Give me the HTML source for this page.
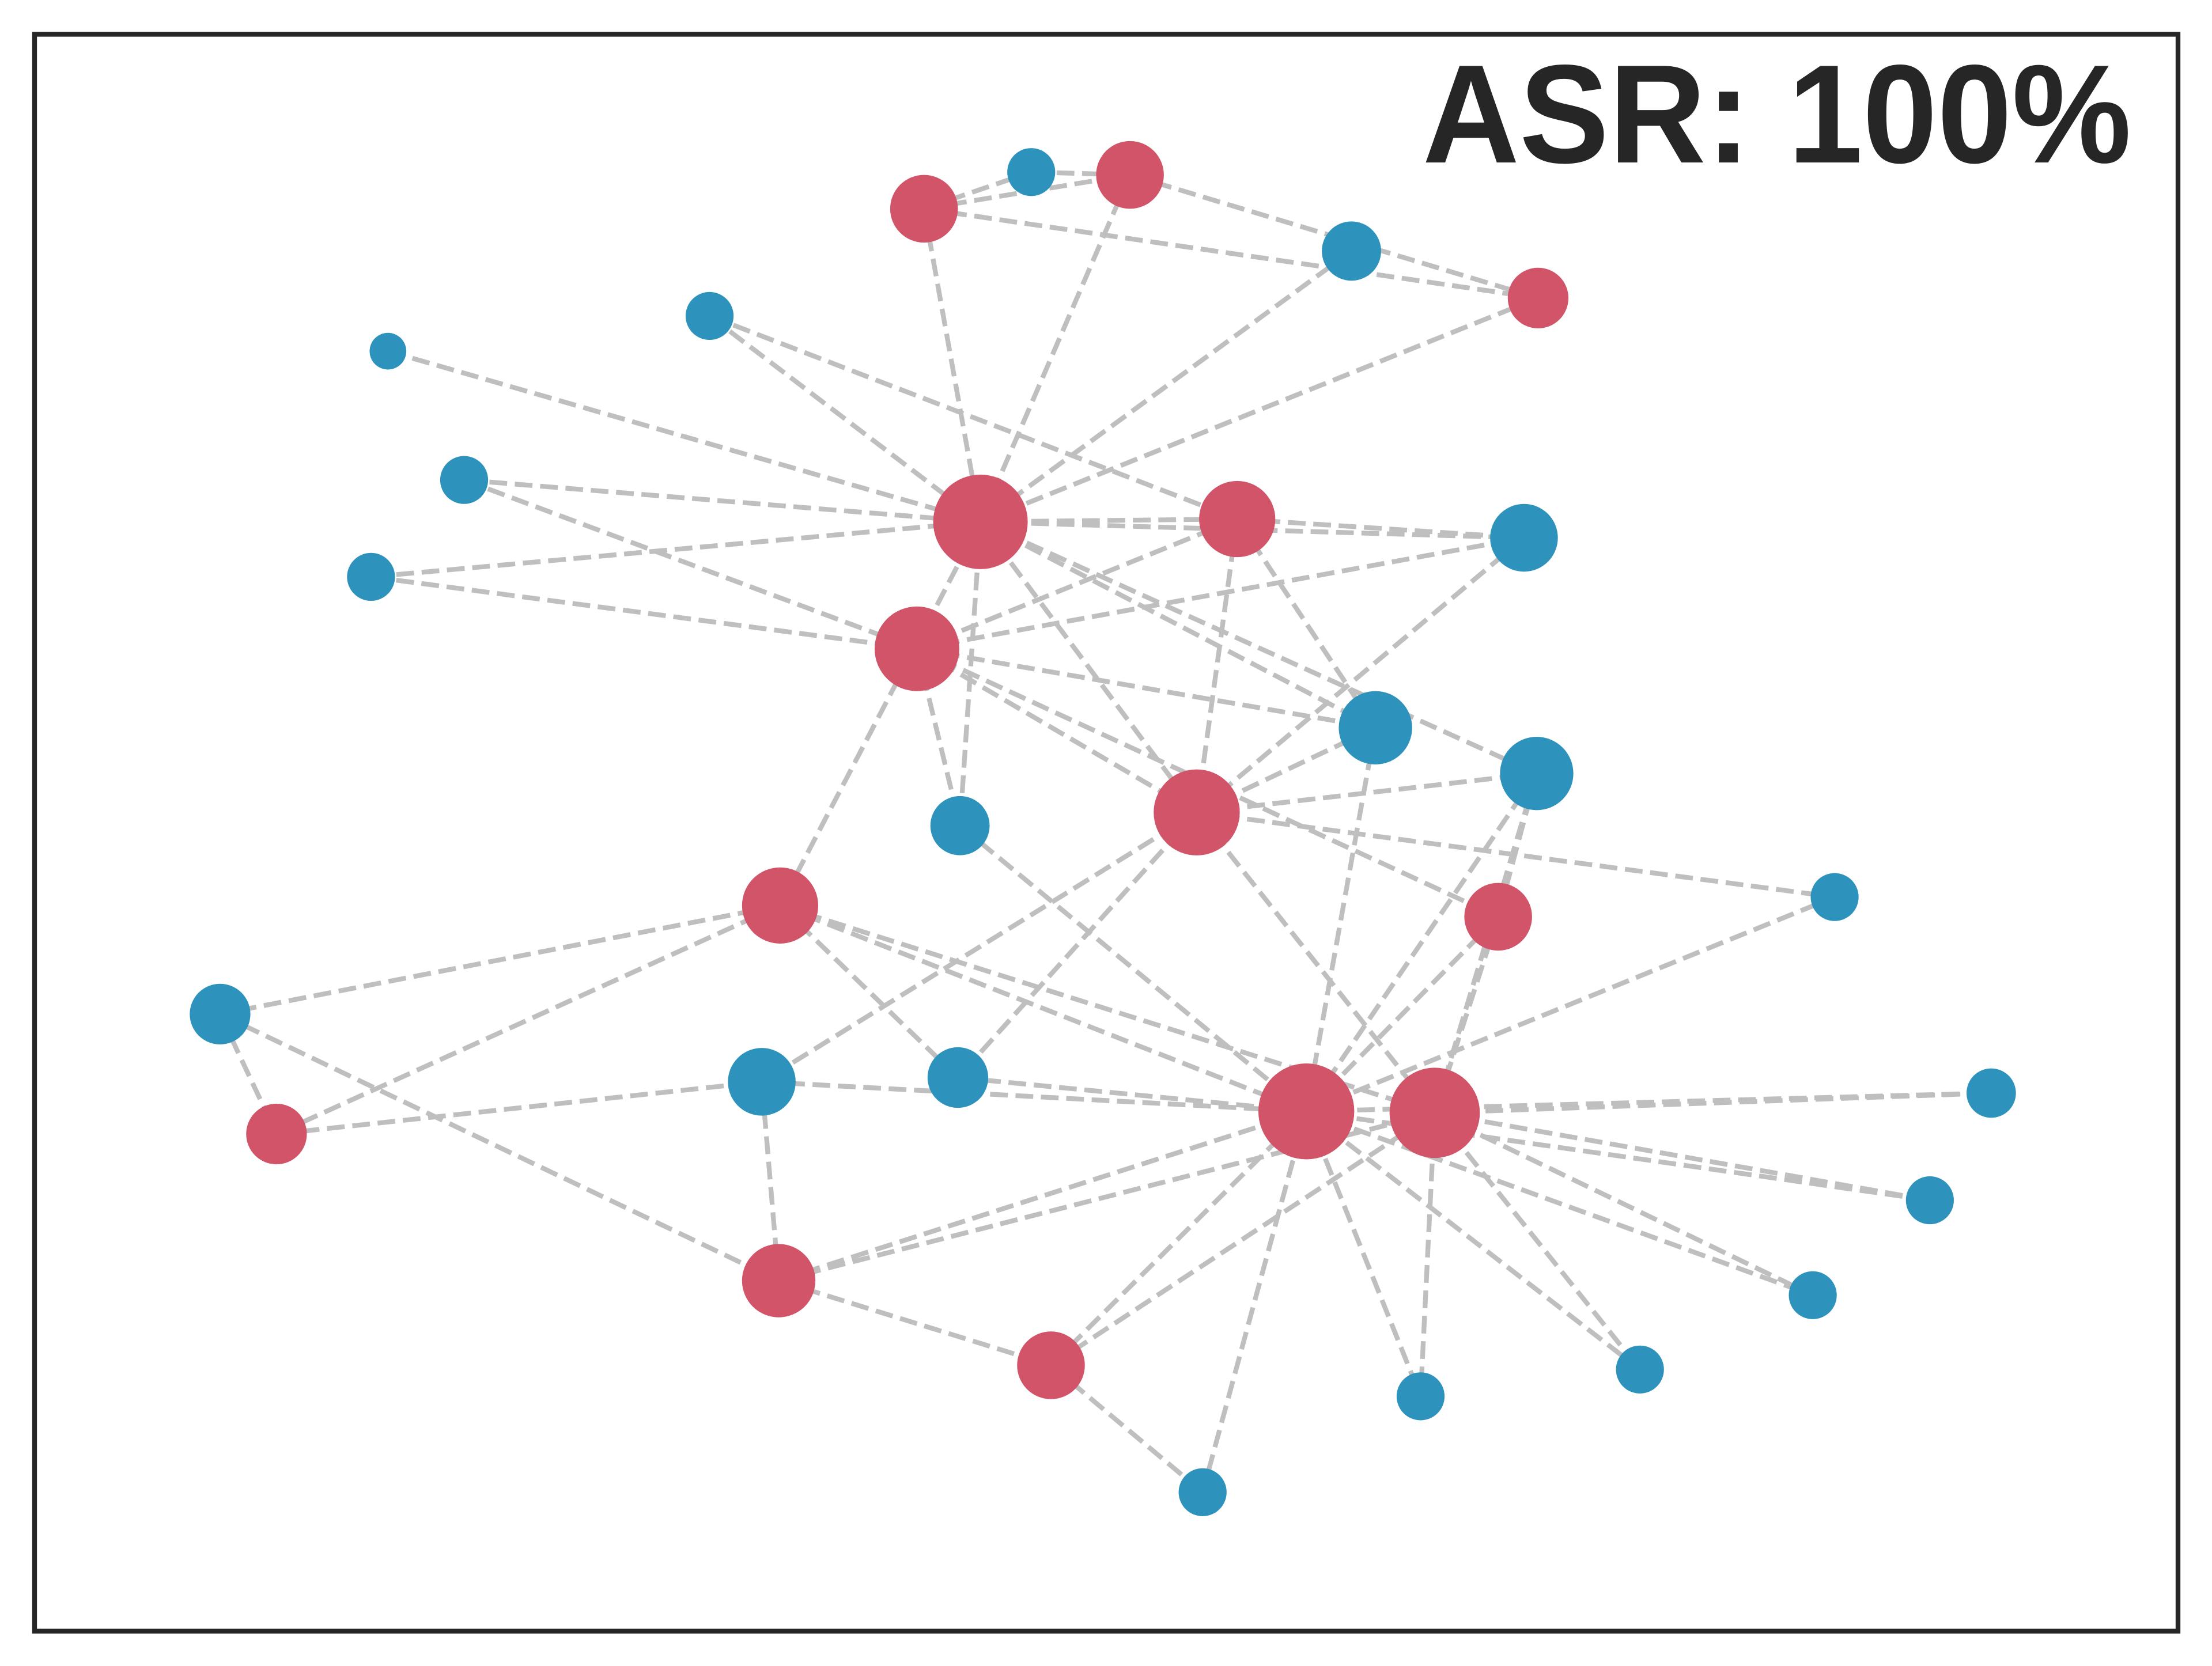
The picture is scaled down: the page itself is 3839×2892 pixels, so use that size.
<!DOCTYPE html>
<html lang="en">
<head>
<meta charset="utf-8">
<title>ASR network graph</title>
<style>
  html, body { margin: 0; padding: 0; background: #ffffff; width: 3839px; height: 2892px; overflow: hidden; }
  svg { display: block; }
</style>
</head>
<body>
<svg id="chart" xmlns="http://www.w3.org/2000/svg" width="3839" height="2892" viewBox="0 0 3839 2892">
  <rect x="0" y="0" width="3839" height="2892" fill="#ffffff"/>
  <g id="edges" fill="none" stroke="#bfbfbf" stroke-width="8.33" stroke-dasharray="30.8 13.3"></g>
  <g id="nodes"></g>
  <rect x="60" y="59.5" width="3720" height="2772" fill="none" stroke="#262626" stroke-width="8.3"/>
  <text transform="translate(3699 282) scale(1 1.045)" x="0" y="0" text-anchor="end" font-family="'Liberation Sans', sans-serif" font-weight="700" font-size="233" fill="#262626">ASR: 100%</text>
</svg>
<script>
const nodeIds = ['R1','R2','R3','R4','R5','R6','R7','R8','R9','R10','R11','R12','R13','R14','B1','B2','B3','B4','B5','B6','B7','B8','B9','B10','B11','B12','B13','B14','B15','B16','B17','B18','B19','B20'];
const nodeX = [655,801,1090.3,695,877,650,848.3,553,1062,926,1017,196,552,745,731,958,503,275,329,263,1080.3,975,1089.3,680.5,1300.5,156,540,679,1411.5,1368,1285,1162.5,1007,852.5];
const nodeY = [148,124,211.3,370,368,460,576,642,650,788,789,804,908,968,122,178,224,249,340.3,409,381.3,516,548.4,585.4,636,719,767,764,775,851,918.3,971,990,1058];
const nodeRadius = [24,24,21.5,33.5,27,30,30.5,27,24,34,32,21.5,26,24,17,21,17,13,17,17,24,26,26,21,17,21.5,24,21.5,17.5,17,17,17,17,17];
const nodeGroup = ['red','red','red','red','red','red','red','red','red','red','red','red','red','red','blue','blue','blue','blue','blue','blue','blue','blue','blue','blue','blue','blue','blue','blue','blue','blue','blue','blue','blue','blue'];
const edgeSource = ['R1','R1','B1','R1','R1','R2','R2','B2','R3','B3','B3','B4','B5','B5','B6','B6','R4','R4','R5','R4','R4','R4','R4','R4','R5','R6','R5','R5','B7','R6','R6','R6','R6','R7','R7','R7','R7','R7','R7','B8','B9','B9','B9','R9','R9','B10','R8','R8','R8','R8','R8','B12','B12','R12','B14','B13','R13','R13','R13','R13','R14','R14','R14','R10','R10','R11','R10','R11','R10','R11','R10','R11','R10','R11','R10'];
const edgeTarget = ['B1','R2','R2','R4','R3','R3','R4','R4','R4','R4','R5','R4','R4','R6','R4','R6','R5','B7','B7','B10','R7','B8','B9','R8','R6','B7','B8','R7','R7','B8','R7','R9','B10','B8','B9','B11','R11','B13','B14','R10','R10','R9','R11','R10','R11','R10','R10','R11','B14','B12','R12','R12','R13','B13','R10','R10','B13','R14','R10','R11','R10','R11','B20','B20','B19','B19','B18','B18','B17','B17','B16','B16','B15','B15','B11'];
const groupColors = { red: '#d25468', blue: '#2e93bc' };
const unitScale = 3839 / 1568;

function xAxis(v) { return v * unitScale; }
function yAxis(v) { return v * unitScale; }

const SVG_NS = 'http://www.w3.org/2000/svg';
const edgeLayer = document.getElementById('edges');
const nodeLayer = document.getElementById('nodes');

edgeSource.forEach(function (source, i) {
  const target = edgeTarget[i];
  const a = nodeIds.indexOf(source);
  const b = nodeIds.indexOf(target);
  const el = document.createElementNS(SVG_NS, 'line');
  
  
  el.setAttribute('x1', xAxis(nodeX[a]));
  el.setAttribute('y1', yAxis(nodeY[a]));
  el.setAttribute('x2', xAxis(nodeX[b]));
  el.setAttribute('y2', yAxis(nodeY[b]));
  edgeLayer.appendChild(el);
});

nodeIds.forEach(function (id, i) {
  const el = document.createElementNS(SVG_NS, 'circle');
  
  
  el.setAttribute('cx', xAxis(nodeX[i]));
  el.setAttribute('cy', yAxis(nodeY[i]));
  el.setAttribute('r', nodeRadius[i] * unitScale);
  el.setAttribute('fill', groupColors[nodeGroup[i]]);
  nodeLayer.appendChild(el);
});
</script>
</body>
</html>
